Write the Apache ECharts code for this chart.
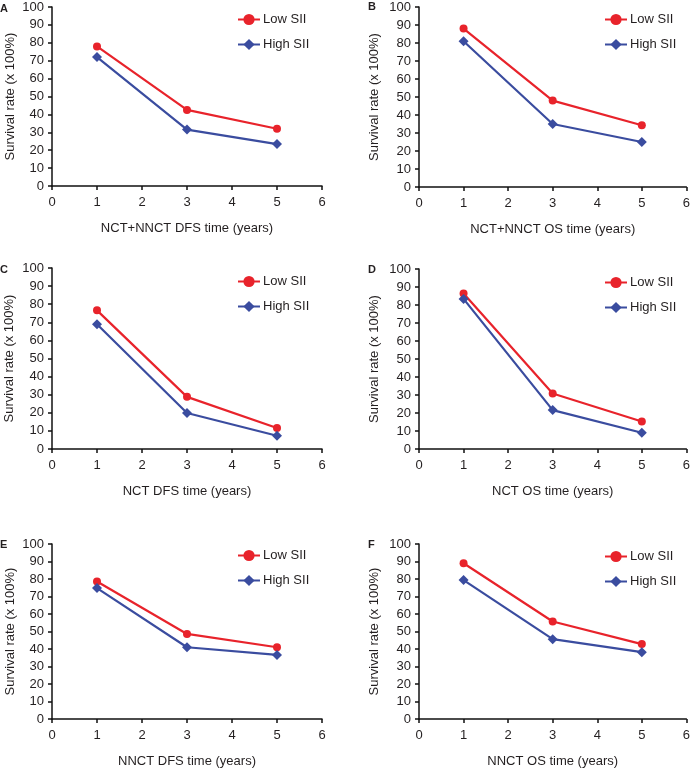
<!DOCTYPE html>
<html>
<head>
<meta charset="utf-8">
<script src="https://cdn.jsdelivr.net/npm/echarts@6/dist/echarts.min.js"></script>
<style>
html,body{margin:0;padding:0;background:#fff;}
#chart{width:693px;height:769px;}
</style>
</head>
<body>
<div id="chart"></div>
<script>
// Data
var years = [1, 3, 5];
var panelLetters = ['A', 'B', 'C', 'D', 'E', 'F'];
var xAxisNames = [
  'NCT+NNCT DFS time (years)',
  'NCT+NNCT OS time (years)',
  'NCT DFS time (years)',
  'NCT OS time (years)',
  'NNCT DFS time (years)',
  'NNCT OS time (years)'
];
var lowSII = [
  [78, 42.5, 32],
  [88, 48, 34.3],
  [76.6, 28.8, 11.6],
  [86.4, 30.8, 15.3],
  [78.6, 48.6, 41],
  [89, 55.7, 42.8]
];
var highSII = [
  [72, 31.5, 23.4],
  [81, 35, 25],
  [68.9, 19.9, 7.3],
  [83.4, 21.6, 9],
  [74.8, 41, 36.6],
  [79.4, 45.6, 38.2]
];
var yTicks = [0, 10, 20, 30, 40, 50, 60, 70, 80, 90, 100];
var xTicks = [0, 1, 2, 3, 4, 5, 6];
var seriesNames = ['Low SII', 'High SII'];

// Layout
var grids = [
  {left: 52, top: 7, width: 270, height: 179},
  {left: 419, top: 7, width: 270, height: 180},
  {left: 52, top: 268, width: 270, height: 181},
  {left: 419, top: 269, width: 270, height: 180},
  {left: 52, top: 544, width: 270, height: 179},
  {left: 419, top: 544, width: 270, height: 179}
];
var yNameGaps = [35, 38, 36, 38, 35, 38];
var letterPos = [[0, 3], [368, 1], [0, 264], [368, 264], [0, 539], [368, 539]];
var legendPos = [[237, 13], [604, 13], [237, 275], [604, 276], [237, 549], [604, 550]];

var RED = '#e8232b';
var BLUE = '#3a4c9f';
var TXT = '#231f20';
var FONT = 'Liberation Sans, Arial, sans-serif';

var option = {
  animation: false,
  backgroundColor: '#fff',
  textStyle: {fontFamily: FONT},
  grid: [], xAxis: [], yAxis: [], series: [], legend: [], title: []
};

for (var i = 0; i < 6; i++) {
  var g = grids[i];
  option.grid.push({left: g.left, top: g.top, width: g.width, height: g.height, containLabel: false});
  option.xAxis.push({
    type: 'value', gridIndex: i, min: xTicks[0], max: xTicks[xTicks.length - 1], interval: 1,
    name: xAxisNames[i], nameLocation: 'middle', nameGap: 36,
    nameTextStyle: {fontSize: 13, color: TXT, fontFamily: FONT},
    axisLine: {show: true, lineStyle: {color: '#111', width: 1.5}},
    axisTick: {show: true, inside: false, length: 4, lineStyle: {color: '#111', width: 1.5}},
    axisLabel: {fontSize: 13, color: TXT, margin: 10, fontFamily: FONT},
    splitLine: {show: false}
  });
  option.yAxis.push({
    type: 'value', gridIndex: i, min: yTicks[0], max: yTicks[yTicks.length - 1], interval: 10,
    name: 'Survival rate (x 100%)', nameLocation: 'middle', nameGap: yNameGaps[i], nameRotate: 90,
    nameTextStyle: {fontSize: 13, color: TXT, fontFamily: FONT},
    axisLine: {show: true, lineStyle: {color: '#111', width: 1.5}},
    axisTick: {show: true, inside: false, length: 4, lineStyle: {color: '#111', width: 1.5}},
    axisLabel: {fontSize: 13, color: TXT, margin: 8, fontFamily: FONT},
    splitLine: {show: false}
  });
  option.series.push({
    name: seriesNames[0], type: 'line', xAxisIndex: i, yAxisIndex: i,
    data: years.map(function (y, k) { return [y, lowSII[i][k]]; }),
    symbol: 'circle', symbolSize: 8,
    lineStyle: {color: RED, width: 2.2},
    itemStyle: {color: RED}
  });
  option.series.push({
    name: seriesNames[1], type: 'line', xAxisIndex: i, yAxisIndex: i,
    data: years.map(function (y, k) { return [y, highSII[i][k]]; }),
    symbol: 'diamond', symbolSize: 10,
    lineStyle: {color: BLUE, width: 2.2},
    itemStyle: {color: BLUE}
  });
  option.legend.push({
    data: seriesNames, orient: 'vertical', left: legendPos[i][0], top: legendPos[i][1],
    itemWidth: 22, itemHeight: 14, itemGap: 12, padding: 0,
    textStyle: {fontSize: 13, color: TXT, fontFamily: FONT, padding: [0, 0, 0, -2]},
    selectedMode: false
  });
  option.title.push({
    text: panelLetters[i], left: letterPos[i][0], top: letterPos[i][1], padding: 0,
    textStyle: {fontSize: 11, fontWeight: 'bold', color: TXT, fontFamily: FONT}
  });
}

var chart = echarts.init(document.getElementById('chart'), null, {renderer: 'canvas'});
chart.setOption(option);
</script>
</body>
</html>
